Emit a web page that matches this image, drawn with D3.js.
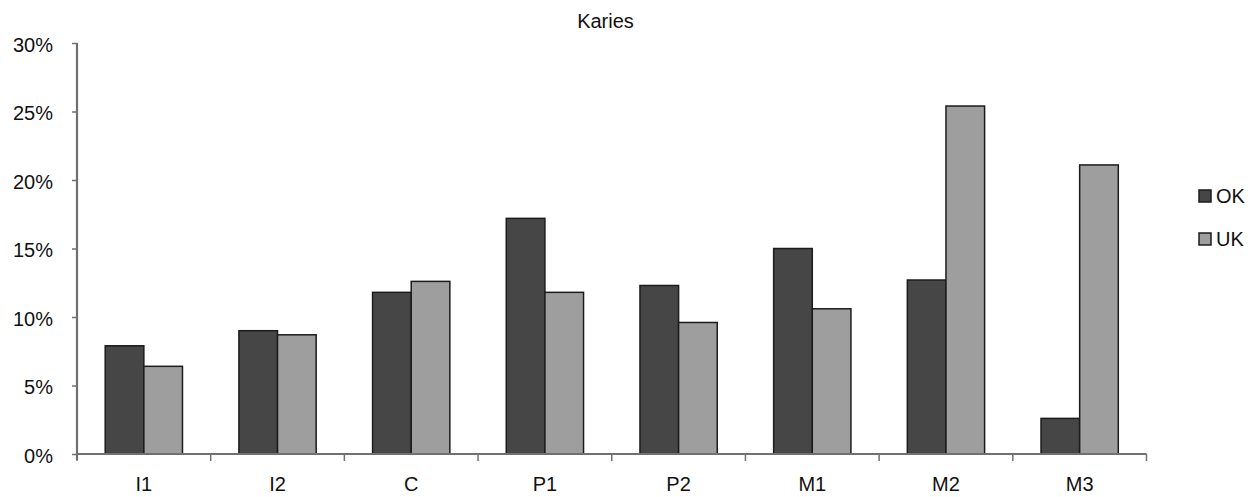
<!DOCTYPE html>
<html>
<head>
<meta charset="utf-8">
<script src="https://cdn.jsdelivr.net/npm/d3@7"></script>
<style>
  html, body { margin: 0; padding: 0; background: #fff; }
  svg { display: block; }
  text { font-family: "Liberation Sans", Arial, sans-serif; fill: #111; }
</style>
</head>
<body>
<svg id="chart" width="1256" height="497"></svg>
<script>
const title = "Karies";
const categories = ["I1", "I2", "C", "P1", "P2", "M1", "M2", "M3"];
const seriesNames = ["OK", "UK"];
const okValues = [0.079, 0.090, 0.118, 0.172, 0.123, 0.150, 0.127, 0.026];
const ukValues = [0.064, 0.087, 0.126, 0.118, 0.096, 0.106, 0.254, 0.211];
const yTicks = [0, 0.05, 0.10, 0.15, 0.20, 0.25, 0.30];
const colors = ["#464646", "#9e9e9e"];

(function () {
const svg = d3.select("#chart");
const mLeft = 77, mRight = 1146.5, mTop = 43, mBottom = 454;
const fontSize = 20;

const x = d3.scaleBand().domain(categories).range([mLeft, mRight]).paddingInner(0).paddingOuter(0);
const x1 = d3.scaleBand().domain(seriesNames).range([0, x.bandwidth()]).paddingInner(0).paddingOuter(0.73);
const y = d3.scaleLinear().domain([0, 0.30]).range([mBottom, mTop]);

const rows = categories.map((c, i) => ({ cat: c, vals: [okValues[i], ukValues[i]] }));

// bars
const g = svg.append("g");
rows.forEach(r => {
  r.vals.forEach((v, j) => {
    g.append("rect")
      .attr("x", x(r.cat) + x1(seriesNames[j]))
      .attr("y", y(v))
      .attr("width", x1.bandwidth())
      .attr("height", y(0) - y(v))
      .attr("fill", colors[j])
      .attr("stroke", "#1c1c1c")
      .attr("stroke-width", 1.5);
  });
});

// y axis
const yAxis = d3.axisLeft(y).tickValues(yTicks).tickFormat(d3.format(".0%")).tickSize(5).tickPadding(19);
const yg = svg.append("g").attr("transform", `translate(${mLeft},0)`).call(yAxis);
yg.select(".domain").attr("stroke", "#707070").attr("stroke-width", 2.2).attr("d", `M0,${mTop}V${mBottom + 6}`);
yg.selectAll(".tick line").attr("stroke", "#707070").attr("stroke-width", 1.5);
yg.selectAll(".tick text").style("font-size", fontSize + "px").attr("fill", "#111")
  .style("font-family", '"Liberation Sans", Arial, sans-serif').attr("dy", "0.4em");

// x axis
const xAxis = d3.axisBottom(x).tickSize(0).tickPadding(23);
const xg = svg.append("g").attr("transform", `translate(0,${mBottom})`).call(xAxis);
xg.select(".domain").attr("stroke", "#707070").attr("stroke-width", 2.2).attr("d", `M${mLeft},0H${mRight}`);
xg.selectAll(".tick text").style("font-size", fontSize + "px").attr("fill", "#111")
  .style("font-family", '"Liberation Sans", Arial, sans-serif');
const bounds = categories.map(c => x(c)).concat([x(categories[categories.length - 1]) + x.bandwidth()]);
xg.selectAll(".bound").data(bounds).enter().append("line")
  .attr("x1", d => d).attr("x2", d => d).attr("y1", 0).attr("y2", 7)
  .attr("stroke", "#707070").attr("stroke-width", 1.5);

// title
svg.append("text").attr("x", 605.5).attr("y", 28).attr("text-anchor", "middle")
  .style("font-size", fontSize + "px").text(title);

// legend
const lg = svg.append("g");
seriesNames.forEach((s, j) => {
  const cy = 196 + j * 43;
  lg.append("rect").attr("x", 1199).attr("y", cy - 6).attr("width", 12).attr("height", 12)
    .attr("fill", colors[j]).attr("stroke", "#1c1c1c").attr("stroke-width", 1.5);
  lg.append("text").attr("x", 1216).attr("y", cy).attr("dy", "0.36em")
    .style("font-size", fontSize + "px").text(s);
});
})();
</script>
</body>
</html>
